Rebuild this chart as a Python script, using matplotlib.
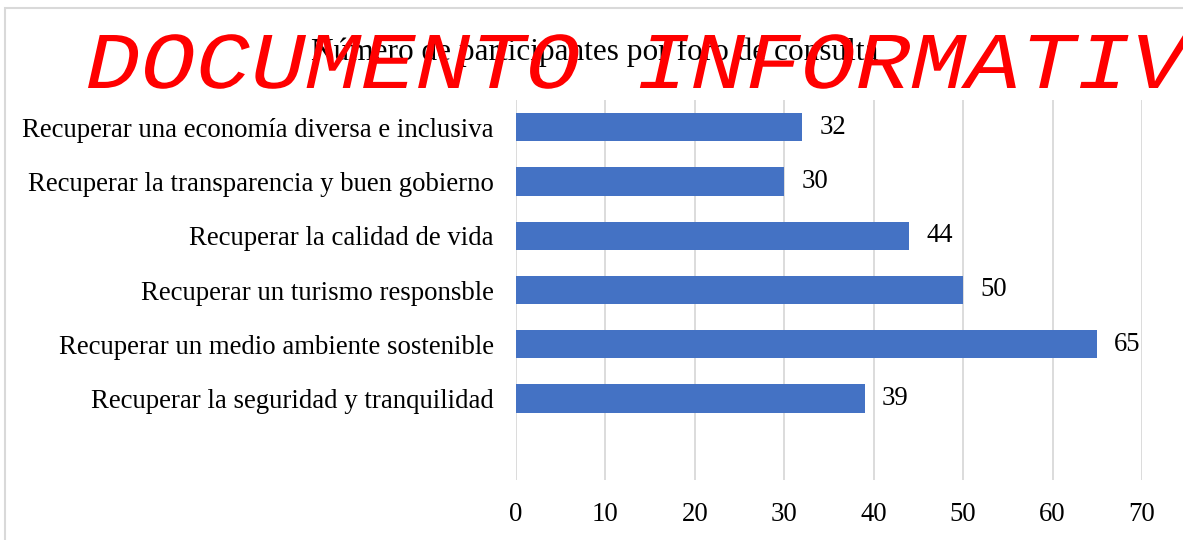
import matplotlib.pyplot as plt
from matplotlib.patches import Rectangle, PathPatch
from matplotlib.textpath import TextPath
from matplotlib.font_manager import FontProperties
from matplotlib.transforms import Affine2D

# Data
foros = [
    "Recuperar una economía diversa e inclusiva",
    "Recuperar la transparencia y buen gobierno",
    "Recuperar la calidad de vida",
    "Recuperar un turismo responsble",
    "Recuperar un medio ambiente sostenible",
    "Recuperar la seguridad y tranquilidad",
]
participantes = [32, 30, 44, 50, 65, 39]
x_ticks = [0, 10, 20, 30, 40, 50, 60, 70]
watermark = "DOCUMENTO INFORMATIVO"

plt.rcParams['font.family'] = ['Liberation Serif', 'DejaVu Serif']

fig = plt.figure(figsize=(11.83, 5.40), dpi=100)
W, H = 1183, 540
ax = fig.add_axes([516 / W, 1 - 480 / H, (1142 - 516) / W, 380 / H])

pos = list(range(len(foros)))
ax.barh(pos, participantes, height=0.52, color='#4472C4', zorder=3)
for p, v in zip(pos, participantes):
    ax.text(v + 1.9, p, str(v), va='center', ha='left', fontsize=19.3, color='#000000')

ax.set_xlim(0, 70)
ax.set_ylim(len(foros) + 0.5, -0.5)
ax.set_xticks(x_ticks)
ax.set_yticks(pos)
ax.set_yticklabels(foros)
ax.tick_params(axis='both', length=0, labelsize=19.3, colors='#000000')
ax.tick_params(axis='y', pad=16)
ax.tick_params(axis='x', pad=16)
ax.grid(axis='x', color='#d9d9d9', linewidth=1.3, zorder=0)
for s in ax.spines.values():
    s.set_visible(False)

# frame of the chart area
fig.add_artist(Rectangle((5 / W, -0.1), 1.2, 1 - 8 / H + 0.1, transform=fig.transFigure,
                         fill=False, edgecolor='#d9d9d9', linewidth=1.5))

fig.text(595 / W, 1 - 60 / H, "Número de participantes por foro de consulta",
         ha='center', va='baseline', fontsize=22.5, color='#000000')

# watermark, drawn as a path so it can be stretched like Courier
fp = FontProperties(family='Liberation Mono', style='italic')
tp = TextPath((0, 0), watermark, size=100, prop=fp)
cap = TextPath((0, 0), "D", size=100, prop=fp).get_extents()
sx = 55 / 60.0
sy = 53 / cap.height
tr = Affine2D().scale(sx, sy).translate(88 - cap.x0 * sx, H - 88).scale(1 / W, 1 / H) + fig.transFigure
fig.add_artist(PathPatch(tp, transform=tr, facecolor='#ff0000', edgecolor='none', zorder=10))

fig.savefig('out.png', dpi=100)
